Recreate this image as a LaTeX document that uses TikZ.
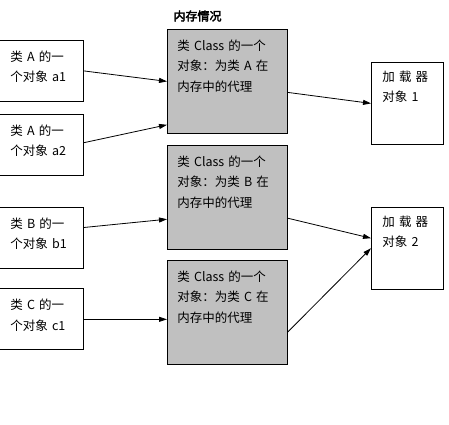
\documentclass[tikz,border=0pt]{standalone}
\usepackage{fontspec}
\usepackage{xcolor}
\usepackage{tikz}
\usetikzlibrary{positioning, arrows.meta}

\newfontfamily\cjk[WordSpace=2]{Noto Sans CJK SC}
\newfontfamily\cjkbold[FakeBold=3]{Noto Sans CJK SC}
\newcommand{\objfont}{\cjk\fontsize{12.5pt}{20.5pt}\selectfont}
\definecolor{proxygray}{RGB}{192,192,192}

\tikzset{
  objbox/.style={draw, fill=white, anchor=north west, align=left, font=\objfont,
    inner xsep=11pt, inner ysep=9pt, text width=62pt, text height=12pt, text depth=31pt},
  proxybox/.style={draw, fill=proxygray, align=left, font=\objfont,
    inner xsep=10pt, inner ysep=9pt, text width=100pt, text height=12pt, text depth=74pt},
  loaderbox/.style={draw, fill=white, align=left, font=\objfont,
    inner xsep=11pt, inner ysep=7pt, text width=50pt, text height=12pt, text depth=56pt},
}

\begin{document}
\begin{tikzpicture}[x=1pt,y=-1pt,line width=0.8pt,>={Triangle[length=8pt,width=5pt]}]
       \useasboundingbox (0,0) rectangle (449,424);

       \node[font=\cjkbold\fontsize{12pt}{14pt}\selectfont] (title) at (197.5,16) {内存情况};

       % objects of classes A, B, C
       \node[objbox] (a1) at (-1,40) {类 A 的一\\个对象 a1};
       \node[objbox] (a2) [below=12pt of a1.south west, anchor=north west] {类 A 的一\\个对象 a2};
       \node[objbox] (b1) [below=31pt of a2.south west, anchor=north west] {类 B 的一\\个对象 b1};
       \node[objbox] (c1) [below=20pt of b1.south west, anchor=north west] {类 C 的一\\个对象 c1};

       % Class objects in memory
       \node[proxybox, anchor=north west] (g1) at (167,29) {类 Class 的一个\\对象：为类 A 在\\内存中的代理};
       \node[proxybox] (g2) [below=11pt of g1] {类 Class 的一个\\对象：为类 B 在\\内存中的代理};
       \node[proxybox] (g3) [below=10pt of g2] {类 Class 的一个\\对象：为类 C 在\\内存中的代理};

       % loaders
       \node[loaderbox, anchor=north west] (l1) at (371,62) {加 载 器\\对象 1};
       \node[loaderbox] (l2) [below=62pt of l1] {加 载 器\\对象 2};

       \draw[->] (a1.east) -- (g1.west);
       \draw[->] ([yshift=2pt]a2.east) -- ([yshift=9pt]g1.south west);
       \draw[->] ([yshift=10pt]b1.east) -- ([yshift=-22pt]g2.west);
       \draw[->] (c1.east) -- (c1.east -| g3.west);
       \draw[->] ([yshift=-11pt]g1.east) -- (l1.west);
       \draw[->] ([yshift=-21pt]g2.east) -- ([yshift=10pt]l2.west);
       \draw[->] ([yshift=-20pt]g3.east) -- (l2.west);
    \end{tikzpicture}
\end{document}
